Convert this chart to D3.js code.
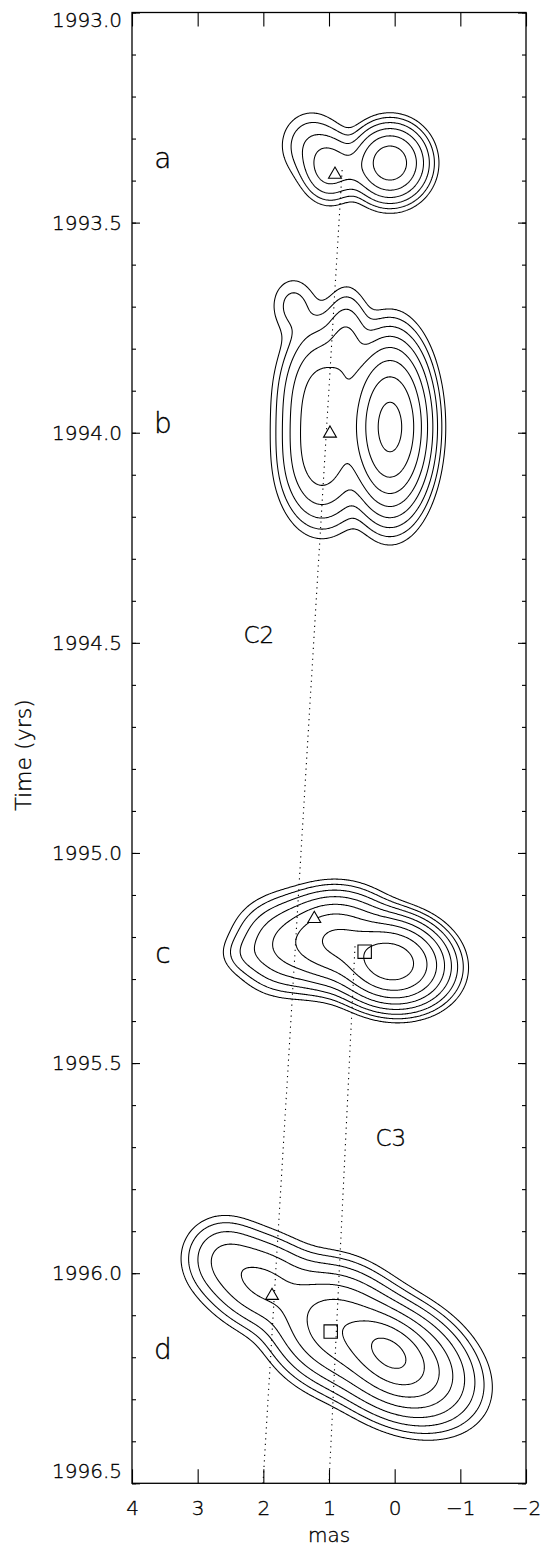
<!DOCTYPE html>
<html><head><meta charset="utf-8">
<script src="https://cdn.jsdelivr.net/npm/d3@7"></script>
<style>body{margin:0;background:#fff}svg{display:block}</style>
</head><body>
<svg id="chart" width="551" height="1549"></svg>
<script>
// ---------- data ----------
const xTickValues = [4, 3, 2, 1, 0, -1, -2];
const yMajorTicks = [1993.0, 1993.5, 1994.0, 1994.5, 1995.0, 1995.5, 1996.0, 1996.5];
const yMinorTicks = d3.range(0, 36).map(i => 1993 + i * 0.1);
const epochNames = ["a", "b", "c", "d"];
const epochLabelTimes = [1993.370, 1994.001, 1995.262, 1996.205];
const epochLabelMas = 3.53;

// contour levels (fraction of peak unit)
const levelsShort = [0.02, 0.04, 0.08, 0.16, 0.32, 0.64];
const levelsLong = [0.005, 0.01, 0.02, 0.04, 0.08, 0.16, 0.32, 0.64];

// gaussian model components: [mas, yr, flux, sigmaMas, sigmaYr, angleDeg]
const compsA = [
  [0.071, 1993.3582, 1.00, 0.2665, 0.0428, 0],
  [0.985, 1993.3701, 0.23, 0.213, 0.0405, 0],
  [1.274, 1993.3153, 0.07, 0.274, 0.0476, 0],
  [0.650, 1993.3748, 0.06, 0.152, 0.0286, 0]
];
const compsB = [
  [0.071, 1993.9864, 0.80, 0.2665, 0.0881, 0],
  [1.107, 1993.9222, 0.11, 0.3046, 0.0857, 0],
  [1.107, 1994.0652, 0.10, 0.3046, 0.0762, 0],
  [0.726, 1993.7915, 0.04, 0.1827, 0.0666, 0],
  [1.548, 1993.6961, 0.012, 0.213, 0.0428, 0]
];
const compsC = [
  [0.056, 1995.2596, 1.00, 0.365, 0.0440, 10],
  [0.900, 1995.2073, 0.33, 0.381, 0.0500, 0],
  [1.670, 1995.2192, 0.075, 0.365, 0.0524, 0],
  [2.279, 1995.2406, 0.008, 0.213, 0.0262, 0]
];
const compsD = [
  [0.086, 1996.1878, 0.45, 0.335, 0.0333, 40],
  [-0.005, 1996.2069, 0.35, 0.548, 0.0571, 30],
  [0.909, 1996.1237, 0.22, 0.457, 0.0619, 30],
  [2.020, 1996.0224, 0.09, 0.457, 0.0524, 25],
  [2.629, 1995.9581, 0.028, 0.3046, 0.0476, 0]
];
const epochComps = [compsA, compsB, compsC, compsD];
const epochLevels = [levelsShort, levelsLong, levelsLong, levelsLong];
const epochCenters = [1993.36, 1993.99, 1995.25, 1996.16];

// component positions
const triMas = [0.909, 0.985, 1.224, 1.868];
const triYr  = [1993.382, 1993.998, 1995.153, 1996.050];
const sqMas  = [0.457, 0.974];
const sqYr   = [1995.235, 1996.139];

// fitted motion lines
const lineC2 = [[0.80, 1993.375], [2.005, 1996.5]];
const lineC3 = [[0.604, 1995.222], [1.0, 1996.5]];
const compNames = ["C2", "C3"];
const compNameMas = [2.07, 0.06];
const compNameYr = [1994.501, 1995.698];

// ---------- drawing ----------
const svg = d3.select("#chart");
const L = 132, R = 526, T = 12.5, B = 1483.3;
const x = d3.scaleLinear().domain([4, -2]).range([L, R]);
const y = d3.scaleLinear().domain([1993, 1996.5]).range([T, B]);
const FONT = "'DejaVu Sans', sans-serif";
const FW = 200;

const pxPerMas = Math.abs(x(1) - x(0));
const pxPerYr = y(1994) - y(1993);

// contours
const gContours = svg.append("g");
epochComps.forEach((comps, k) => {
  const levels = epochLevels[k];
  const tc = epochCenters[k];
  const mLeft = 3.9, mRight = -1.9, dm = -1 / pxPerMas;
  const tTop = tc - 0.42, tBot = tc + 0.42, dt = 1 / pxPerYr;
  const nx = Math.ceil((mRight - mLeft) / dm) + 1;
  const ny = Math.ceil((tBot - tTop) / dt) + 1;
  const vals = new Float64Array(nx * ny);
  const cc = comps.map(c => {
    const a = c[5] * Math.PI / 180;
    return {cx: x(c[0]), cy: y(c[1]), f: c[2], sx: c[3] * pxPerMas, sy: c[4] * pxPerYr,
            ca: Math.cos(a), sa: Math.sin(a)};
  });
  for (let j = 0; j < ny; j++) {
    const py = y(tTop + j * dt);
    for (let i = 0; i < nx; i++) {
      const px = x(mLeft + i * dm);
      let v = 0;
      for (const c of cc) {
        const dx = px - c.cx, dy = py - c.cy;
        const u = dx * c.ca + dy * c.sa;
        const w = -dx * c.sa + dy * c.ca;
        v += c.f * Math.exp(-0.5 * (u * u / (c.sx * c.sx) + w * w / (c.sy * c.sy)));
      }
      vals[j * nx + i] = v;
    }
  }
  const contours = d3.contours().size([nx, ny]).thresholds(levels)(vals);
  const proj = d3.geoTransform({
    point(i, j) { this.stream.point(x(mLeft + (i - 0.5) * dm), y(tTop + (j - 0.5) * dt)); }
  });
  const path = d3.geoPath(proj);
  gContours.selectAll(null).data(contours).enter().append("path")
    .attr("d", path).attr("fill", "none").attr("stroke", "#000").attr("stroke-width", 1.05)
    .attr("stroke-linejoin", "round");
});

// dotted lines
const line = d3.line().x(d => x(d[0])).y(d => y(d[1]));
[lineC2, lineC3].forEach(l => {
  svg.append("path").attr("d", line(l)).attr("fill", "none").attr("stroke", "#000")
    .attr("stroke-width", 1.1).attr("stroke-dasharray", "1.2,4.3");
});

// markers
const tri = d3.symbol().type(d3.symbolTriangle).size(72);
triMas.forEach((m, i) => {
  svg.append("path").attr("d", tri()).attr("transform", `translate(${x(m)},${y(triYr[i]) + 1.5})`)
    .attr("fill", "#fff").attr("stroke", "#000").attr("stroke-width", 1.1);
});
const sq = d3.symbol().type(d3.symbolSquare).size(180);
sqMas.forEach((m, i) => {
  svg.append("path").attr("d", sq()).attr("transform", `translate(${x(m)},${y(sqYr[i])})`)
    .attr("fill", "none").attr("stroke", "#000").attr("stroke-width", 1.1);
});

// axes
const fmtY = d3.format(".1f");
const left = svg.append("g").attr("transform", `translate(${L},0)`)
  .call(d3.axisLeft(y).tickValues(yMajorTicks).tickSize(-8).tickSizeOuter(0).tickPadding(10).tickFormat(fmtY));
left.selectAll("text").attr("dy", (d, i) => i === 0 ? "0.7em" : (i === yMajorTicks.length - 1 ? "-0.28em" : "0.34em"));
svg.append("g").attr("transform", `translate(${L},0)`)
  .call(d3.axisLeft(y).tickValues(yMinorTicks).tickSize(-4).tickSizeOuter(0).tickFormat(""));
svg.append("g").attr("transform", `translate(${R},0)`)
  .call(d3.axisRight(y).tickValues(yMajorTicks).tickSize(-8).tickSizeOuter(0).tickFormat(""));
svg.append("g").attr("transform", `translate(${R},0)`)
  .call(d3.axisRight(y).tickValues(yMinorTicks).tickSize(-4).tickSizeOuter(0).tickFormat(""));
svg.append("g").attr("transform", `translate(0,${B})`)
  .call(d3.axisBottom(x).tickValues(xTickValues).tickSize(-14).tickSizeOuter(0).tickPadding(18).tickFormat(d3.format("d")));
svg.append("g").attr("transform", `translate(0,${T})`)
  .call(d3.axisTop(x).tickValues(xTickValues).tickSize(-14).tickSizeOuter(0).tickFormat(""));
svg.selectAll(".domain").remove();
svg.selectAll(".tick line").attr("stroke", "#000").attr("stroke-width", 1.1);
svg.selectAll(".tick text").attr("font-family", FONT).attr("font-weight", FW).attr("font-size", 20)
  .attr("fill", "#000").attr("stroke", "#000").attr("stroke-width", 0.35);

svg.append("rect").attr("x", L).attr("y", T).attr("width", R - L).attr("height", B - T)
  .attr("fill", "none").attr("stroke", "#000").attr("stroke-width", 1.3);

function addText(sel) {
  return sel.attr("font-family", FONT).attr("font-weight", FW).attr("fill", "#000")
    .attr("stroke", "#000").attr("stroke-width", 0.35).attr("text-anchor", "middle");
}
// titles
addText(svg.append("text")).attr("x", (L + R) / 2).attr("y", 1542).attr("font-size", 20).text("mas");
addText(svg.append("text")).attr("transform", "translate(31,755) rotate(-90)").attr("font-size", 22).text("Time (yrs)");

// epoch labels
epochNames.forEach((n, i) => {
  addText(svg.append("text")).attr("x", x(epochLabelMas)).attr("y", y(epochLabelTimes[i]))
    .attr("font-size", 28).text(n);
});
compNames.forEach((n, i) => {
  addText(svg.append("text")).attr("x", x(compNameMas[i])).attr("y", y(compNameYr[i]))
    .attr("font-size", 23).text(n);
});
</script>
</body></html>
